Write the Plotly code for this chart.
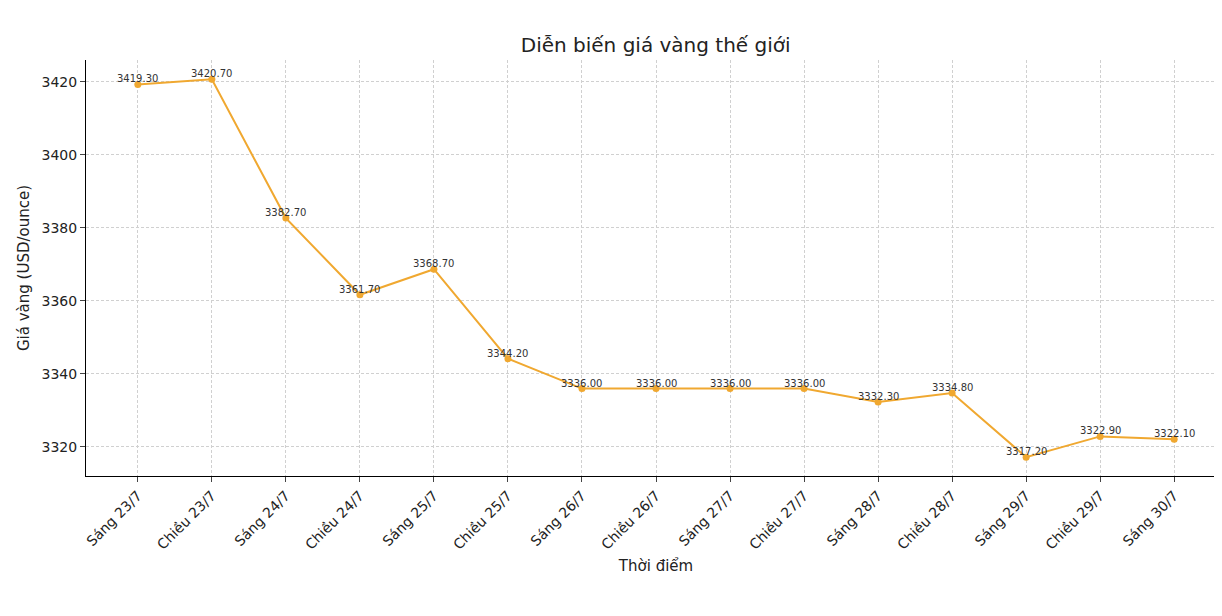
import plotly.graph_objects as go

thoi_diem = ["Sáng 23/7", "Chiều 23/7", "Sáng 24/7", "Chiều 24/7", "Sáng 25/7",
             "Chiều 25/7", "Sáng 26/7", "Chiều 26/7", "Sáng 27/7", "Chiều 27/7",
             "Sáng 28/7", "Chiều 28/7", "Sáng 29/7", "Chiều 29/7", "Sáng 30/7"]
gia_vang = [3419.3, 3420.7, 3382.7, 3361.7, 3368.7, 3344.2, 3336.0, 3336.0,
            3336.0, 3336.0, 3332.3, 3334.8, 3317.2, 3322.9, 3322.1]

fig = go.Figure()
fig.add_trace(go.Scatter(
    x=list(range(len(thoi_diem))), y=gia_vang,
    mode="lines+markers",
    line=dict(color="#f0a830", width=2),
    marker=dict(color="#f0a830", size=7),
))
for i, v in enumerate(gia_vang):
    fig.add_annotation(x=i, y=v, text=f"{v:.2f}", showarrow=False,
                       yanchor="bottom", yshift=-2,
                       font=dict(size=10, color="#333333"))

fig.update_layout(
    width=1222, height=616,
    paper_bgcolor="white", plot_bgcolor="white",
    font=dict(family="DejaVu Sans", color="#222222"),
    title=dict(text="Diễn biến giá vàng thế giới", x=0.53, xanchor="center",
               y=0.94, yanchor="middle", font=dict(size=20)),
    margin=dict(l=78, r=4, t=52, b=148),
    showlegend=False,
)
grid = dict(showgrid=True, gridcolor="#d0d0d0", griddash="3px,2px", gridwidth=0.7,
            zeroline=False, showline=True, linecolor="black", ticks="outside",
            ticklen=5, automargin=False, tickfont=dict(size=14))
fig.update_xaxes(
    tickmode="array", tickvals=list(range(len(thoi_diem))), ticktext=thoi_diem,
    tickangle=-45, range=[-0.7, 14.7],
    title=dict(text="Thời điểm", font=dict(size=15), standoff=8), **grid,
)
fig.update_yaxes(
    range=[3312.05, 3426.0], tickvals=[3320, 3340, 3360, 3380, 3400, 3420],
    title=dict(text="Giá vàng (USD/ounce)", font=dict(size=15), standoff=8), **grid,
)

fig.write_html("out.html")
